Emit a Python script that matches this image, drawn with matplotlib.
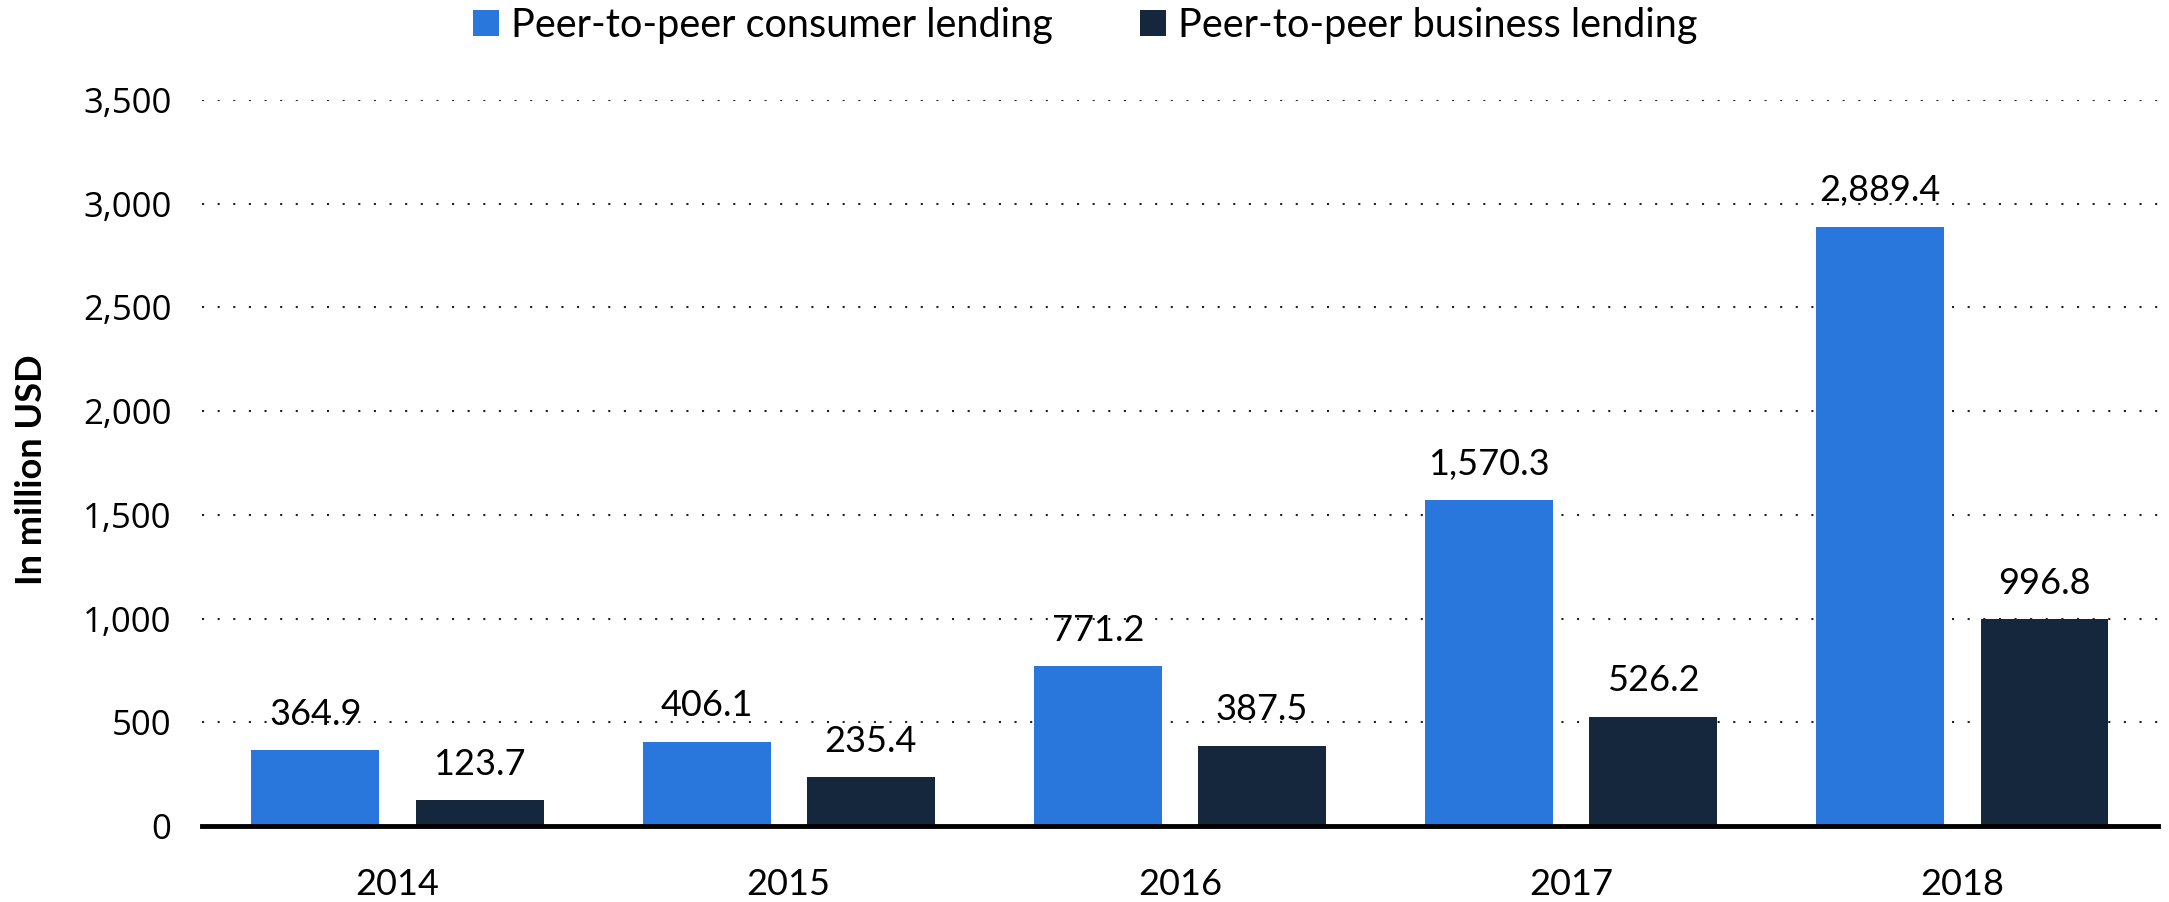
import matplotlib
matplotlib.use("Agg")
import matplotlib.pyplot as plt
from matplotlib.patches import Patch
import numpy as np

# Peer-to-peer lending volumes, million USD
years = ["2014", "2015", "2016", "2017", "2018"]
consumer = [364.9, 406.1, 771.2, 1570.3, 2889.4]
business = [123.7, 235.4, 387.5, 526.2, 996.8]
series_names = ["Peer-to-peer consumer lending", "Peer-to-peer business lending"]
y_ticks = [0, 500, 1000, 1500, 2000, 2500, 3000, 3500]

BLUE = "#2976dd"
NAVY = "#14273d"
LABEL_FONT = "Lato"
TICK_FONT = "Open Sans"

fig = plt.figure(figsize=(21.69, 9.02), dpi=100)
ax = fig.add_axes([0.0931, 0.0843, 0.9018, 0.8048])

x = np.arange(len(years))
width = 0.327
offset = 0.21

bars_c = ax.bar(x - offset, consumer, width, color=BLUE, zorder=3)
bars_b = ax.bar(x + offset, business, width, color=NAVY, zorder=3)

def fmt(v):
    return f"{v:,.1f}"

for bars, vals in ((bars_c, consumer), (bars_b, business)):
    for rect, v in zip(bars, vals):
        ax.annotate(fmt(v), (rect.get_x() + rect.get_width() / 2, v),
                    xytext=(0, 14), textcoords="offset points",
                    ha="center", va="bottom", fontsize=26,
                    family=LABEL_FONT, color="#000000", zorder=4,
                    annotation_clip=False)

ax.set_xlim(-0.5, len(years) - 0.5)
ax.set_ylim(0, 3500)
ax.set_yticks(y_ticks)
ax.set_yticklabels([f"{t:,}" for t in y_ticks], family=TICK_FONT, fontsize=25)
ax.set_xticks(x)
ax.set_xticklabels(years, family=LABEL_FONT, fontsize=26)

ax.tick_params(axis="y", length=0, pad=22)
ax.tick_params(axis="x", length=0, pad=30)

ax.yaxis.grid(True, color="#222222", linestyle=(0, (1, 6.5)), linewidth=1.5, zorder=0)
ax.set_axisbelow(True)

for side in ("left", "right", "top"):
    ax.spines[side].set_visible(False)
ax.spines["bottom"].set_linewidth(3.5)
ax.spines["bottom"].set_color("#000000")
ax.spines["bottom"].set_zorder(5)

fig.text(0.0145, 0.479, "In million USD", rotation=90, ha="center", va="center",
         fontsize=26, fontweight="bold", family=LABEL_FONT)

handles = [Patch(facecolor=BLUE, edgecolor="none"), Patch(facecolor=NAVY, edgecolor="none")]
leg = fig.legend(handles, series_names, loc="center", bbox_to_anchor=(0.5005, 0.972),
                 ncol=2, frameon=False, prop={"family": LABEL_FONT, "size": 28.5},
                 handlelength=0.66, handleheight=0.66, handletextpad=0.3,
                 columnspacing=2.2, borderaxespad=0)

fig.savefig("out.png", dpi=100, facecolor="white")
